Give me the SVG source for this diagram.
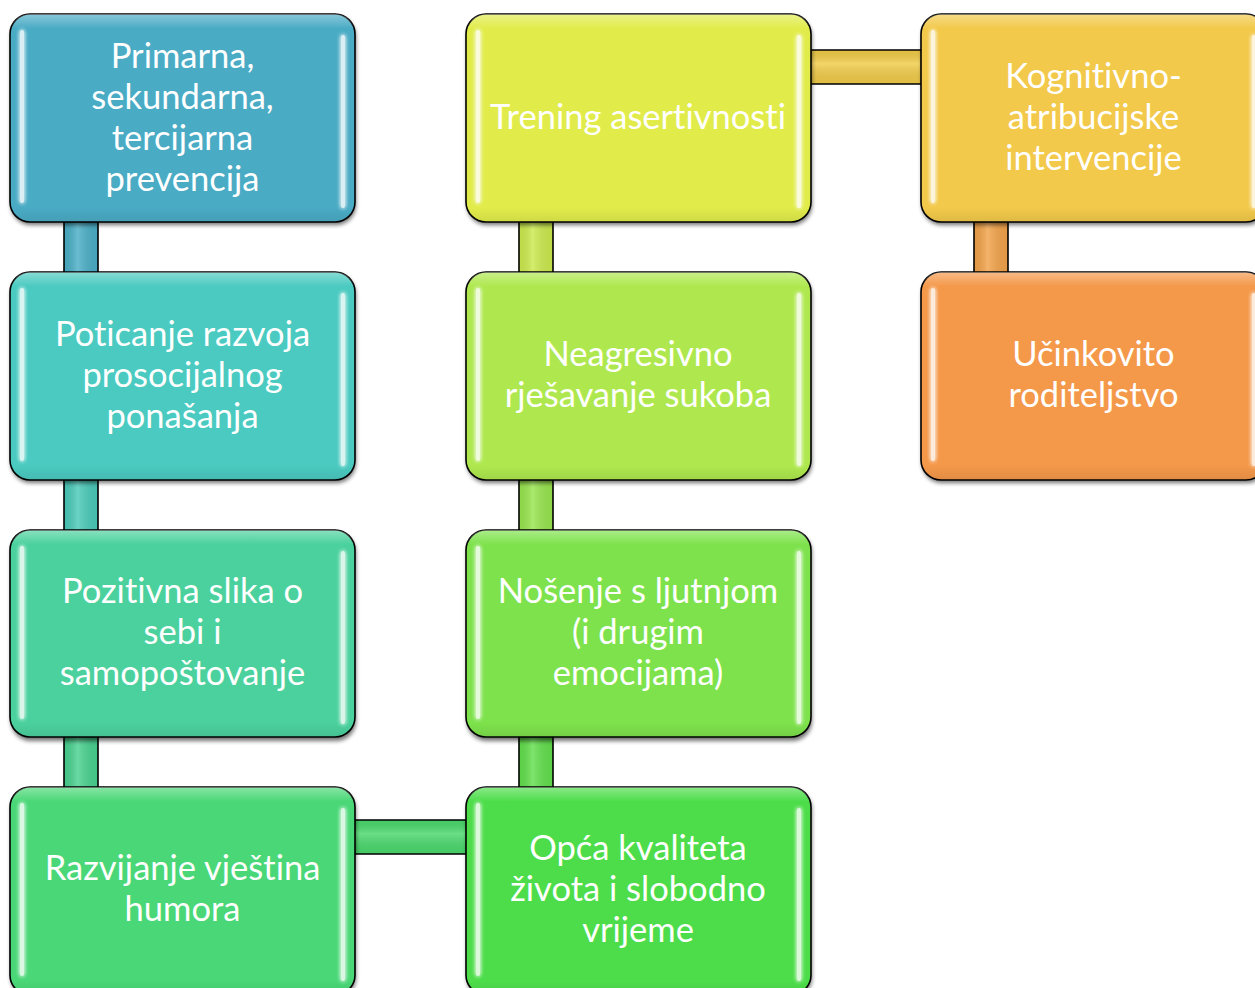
<svg xmlns="http://www.w3.org/2000/svg" width="1255" height="988" viewBox="0 0 1255 988">
<style>
.box{stroke:#000;stroke-width:1.6}
.gl{fill:url(#gloss)}
.sh{fill:#000;opacity:.55;filter:url(#blur)}
.st{fill:#fff;opacity:.8;filter:url(#glow)}
.t{font-family:Lato,"Open Sans","Liberation Sans",sans-serif;font-size:34.5px;fill:#fff;text-anchor:middle;font-variant-ligatures:none}
.cl{stroke:#000;stroke-width:1.6;fill:none}
.co{fill:url(#cgV)}
.coh{fill:url(#cgH)}
</style>
<defs>
<filter id="blur" x="-10%" y="-10%" width="120%" height="120%"><feGaussianBlur stdDeviation="2"/></filter>
<filter id="glow" x="-200%" y="-10%" width="500%" height="120%">
<feGaussianBlur in="SourceGraphic" stdDeviation="2" result="b"/>
<feMerge><feMergeNode in="b"/><feMergeNode in="b"/><feMergeNode in="SourceGraphic"/></feMerge>
</filter>
<linearGradient id="gloss" x1="0" y1="0" x2="0" y2="1">
<stop offset="0" stop-color="#fff" stop-opacity=".35"/>
<stop offset=".07" stop-color="#fff" stop-opacity="0"/>
<stop offset=".93" stop-color="#000" stop-opacity="0"/>
<stop offset="1" stop-color="#000" stop-opacity=".08"/>
</linearGradient>
<linearGradient id="cgV" x1="0" y1="0" x2="1" y2="0">
<stop offset="0" stop-color="#000" stop-opacity=".06"/>
<stop offset=".4" stop-color="#fff" stop-opacity=".18"/>
<stop offset="1" stop-color="#000" stop-opacity=".06"/>
</linearGradient>
<linearGradient id="cgH" x1="0" y1="0" x2="0" y2="1">
<stop offset="0" stop-color="#000" stop-opacity=".06"/>
<stop offset=".4" stop-color="#fff" stop-opacity=".18"/>
<stop offset="1" stop-color="#000" stop-opacity=".06"/>
</linearGradient>
</defs>
<rect width="1255" height="988" fill="#fff"/>

<g id="connectors">
<rect x="64" y="220" width="34" height="54" fill="#4aaec6"/><rect x="64" y="220" width="34" height="54" class="co"/><path class="cl" d="M64 222V272M98 222V272"/>
<rect x="64" y="478" width="34" height="54" fill="#4acab9"/><rect x="64" y="478" width="34" height="54" class="co"/><path class="cl" d="M64 480V530M98 480V530"/>
<rect x="64" y="735" width="34" height="54" fill="#49d18f"/><rect x="64" y="735" width="34" height="54" class="co"/><path class="cl" d="M64 737V787M98 737V787"/>
<rect x="353" y="820" width="115" height="34" fill="#4ad86c"/><rect x="353" y="820" width="115" height="34" class="coh"/><path class="cl" d="M355 820H466M355 854H466"/>
<rect x="519" y="735" width="34" height="54" fill="#62df4c"/><rect x="519" y="735" width="34" height="54" class="co"/><path class="cl" d="M519 737V787M553 737V787"/>
<rect x="519" y="478" width="34" height="54" fill="#98e54e"/><rect x="519" y="478" width="34" height="54" class="co"/><path class="cl" d="M519 480V530M553 480V530"/>
<rect x="519" y="220" width="34" height="54" fill="#cbea4d"/><rect x="519" y="220" width="34" height="54" class="co"/><path class="cl" d="M519 222V272M553 222V272"/>
<rect x="808" y="50" width="115" height="34" fill="#f0cb48"/><rect x="808" y="50" width="115" height="34" class="coh"/><path class="cl" d="M810 50H921M810 84H921"/>
<rect x="974" y="220" width="34" height="54" fill="#f2a34a"/><rect x="974" y="220" width="34" height="54" class="co"/><path class="cl" d="M974 222V272M1008 222V272"/>
</g>

<g id="n1">
<rect class="sh" x="11" y="17" width="345" height="208" rx="20"/>
<rect class="box" x="10" y="14" width="345" height="208" rx="20" fill="#4aabc5"/>
<rect class="gl" x="10" y="14" width="345" height="208" rx="20"/>
<rect class="st" x="20" y="30" width="4" height="173" rx="2"/>
<rect class="st" x="341" y="35" width="4" height="173" rx="2"/>
<text class="t"><tspan x="182.5" y="68">Primarna,</tspan><tspan x="182.5" y="109">sekundarna,</tspan><tspan x="182.5" y="150">tercijarna</tspan><tspan x="182.5" y="191">prevencija</tspan></text>
</g>

<g id="n2">
<rect class="sh" x="11" y="275" width="345" height="208" rx="20"/>
<rect class="box" x="10" y="272" width="345" height="208" rx="20" fill="#4acac0"/>
<rect class="gl" x="10" y="272" width="345" height="208" rx="20"/>
<rect class="st" x="20" y="288" width="4" height="173" rx="2"/>
<rect class="st" x="341" y="293" width="4" height="173" rx="2"/>
<text class="t"><tspan x="182.5" y="346">Poticanje razvoja</tspan><tspan x="182.5" y="387">prosocijalnog</tspan><tspan x="182.5" y="428">ponašanja</tspan></text>
</g>

<g id="n3">
<rect class="sh" x="11" y="533" width="345" height="208" rx="20"/>
<rect class="box" x="10" y="530" width="345" height="207" rx="20" fill="#4bd19d"/>
<rect class="gl" x="10" y="530" width="345" height="207" rx="20"/>
<rect class="st" x="20" y="546" width="4" height="173" rx="2"/>
<rect class="st" x="341" y="551" width="4" height="173" rx="2"/>
<text class="t"><tspan x="182.5" y="603">Pozitivna slika o</tspan><tspan x="182.5" y="644">sebi i</tspan><tspan x="182.5" y="685">samopoštovanje</tspan></text>
</g>

<g id="n4">
<rect class="sh" x="11" y="790" width="345" height="208" rx="20"/>
<rect class="box" x="10" y="787" width="345" height="208" rx="20" fill="#4ad777"/>
<rect class="gl" x="10" y="787" width="345" height="208" rx="20"/>
<rect class="st" x="20" y="803" width="4" height="173" rx="2"/>
<rect class="st" x="341" y="808" width="4" height="173" rx="2"/>
<text class="t"><tspan x="182.5" y="880">Razvijanje vještina</tspan><tspan x="182.5" y="921">humora</tspan></text>
</g>

<g id="n5">
<rect class="sh" x="467" y="790" width="345" height="208" rx="20"/>
<rect class="box" x="466" y="787" width="345" height="208" rx="20" fill="#4ddd4a"/>
<rect class="gl" x="466" y="787" width="345" height="208" rx="20"/>
<rect class="st" x="476" y="803" width="4" height="173" rx="2"/>
<rect class="st" x="797" y="808" width="4" height="173" rx="2"/>
<text class="t"><tspan x="638" y="860">Opća kvaliteta</tspan><tspan x="638" y="901">života i slobodno</tspan><tspan x="638" y="942">vrijeme</tspan></text>
</g>

<g id="n6">
<rect class="sh" x="467" y="533" width="345" height="208" rx="20"/>
<rect class="box" x="466" y="530" width="345" height="207" rx="20" fill="#7ee24c"/>
<rect class="gl" x="466" y="530" width="345" height="207" rx="20"/>
<rect class="st" x="476" y="546" width="4" height="173" rx="2"/>
<rect class="st" x="797" y="551" width="4" height="173" rx="2"/>
<text class="t"><tspan x="638" y="603">Nošenje s ljutnjom</tspan><tspan x="638" y="644">(i drugim</tspan><tspan x="638" y="685">emocijama)</tspan></text>
</g>

<g id="n7">
<rect class="sh" x="467" y="275" width="345" height="208" rx="20"/>
<rect class="box" x="466" y="272" width="345" height="208" rx="20" fill="#aee84e"/>
<rect class="gl" x="466" y="272" width="345" height="208" rx="20"/>
<rect class="st" x="476" y="288" width="4" height="173" rx="2"/>
<rect class="st" x="797" y="293" width="4" height="173" rx="2"/>
<text class="t"><tspan x="638" y="366">Neagresivno</tspan><tspan x="638" y="407">rješavanje sukoba</tspan></text>
</g>

<g id="n8">
<rect class="sh" x="467" y="17" width="345" height="208" rx="20"/>
<rect class="box" x="466" y="14" width="345" height="208" rx="20" fill="#e1ec4b"/>
<rect class="gl" x="466" y="14" width="345" height="208" rx="20"/>
<rect class="st" x="476" y="30" width="4" height="173" rx="2"/>
<rect class="st" x="797" y="35" width="4" height="173" rx="2"/>
<text class="t"><tspan x="638" y="129">Trening asertivnosti</tspan></text>
</g>

<g id="n9">
<rect class="sh" x="922" y="17" width="345" height="208" rx="20"/>
<rect class="box" x="921" y="14" width="345" height="208" rx="20" fill="#f2c94a"/>
<rect class="gl" x="921" y="14" width="345" height="208" rx="20"/>
<rect class="st" x="931" y="30" width="4" height="173" rx="2"/>
<rect class="st" x="1252" y="35" width="4" height="173" rx="2"/>
<text class="t"><tspan x="1093.5" y="88">Kognitivno-</tspan><tspan x="1093.5" y="129">atribucijske</tspan><tspan x="1093.5" y="170">intervencije</tspan></text>
</g>

<g id="n10">
<rect class="sh" x="922" y="275" width="345" height="208" rx="20"/>
<rect class="box" x="921" y="272" width="345" height="208" rx="20" fill="#f4984a"/>
<rect class="gl" x="921" y="272" width="345" height="208" rx="20"/>
<rect class="st" x="931" y="288" width="4" height="173" rx="2"/>
<rect class="st" x="1252" y="293" width="4" height="173" rx="2"/>
<text class="t"><tspan x="1093.5" y="366">Učinkovito</tspan><tspan x="1093.5" y="407">roditeljstvo</tspan></text>
</g>
</svg>
